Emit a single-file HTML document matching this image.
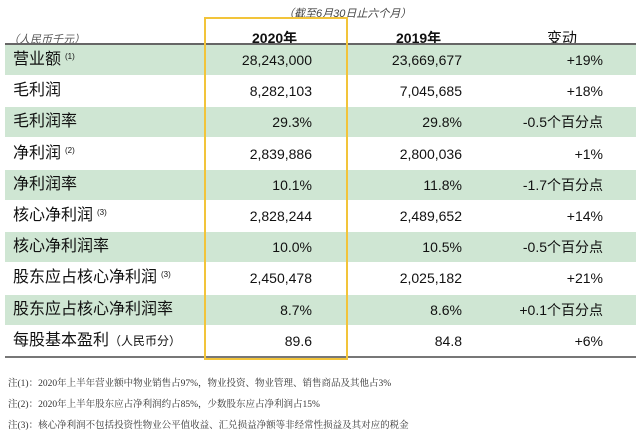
<!DOCTYPE html>
<html><head><meta charset="utf-8"><style>
body{margin:0;width:641px;height:433px;background:#fff;overflow:hidden;position:relative;font-family:"Liberation Sans","Noto Sans CJK SC",sans-serif;color:#111}
.a{position:absolute;white-space:nowrap}
.row{position:absolute;left:5px;width:631px;height:30px}
.g{background:#cfe6d3}
.lab{position:absolute;left:8px;top:0;height:30px;font-size:16px;line-height:30px;white-space:nowrap}
.lab .s{font-size:8px;position:relative;top:-5px;margin-left:4px;line-height:0}
.v{position:absolute;top:0;font-size:14px;line-height:30px;text-align:right;white-space:nowrap}
.c1{right:324px}.c2{right:174px}.c3{right:33px}
.note{position:absolute;left:8px;font-size:9.5px;color:#333;font-family:"Liberation Serif","Noto Serif CJK SC",serif}
</style></head><body>
<div class="a" style="left:283px;top:5px;font-size:11px;font-style:italic;color:#444">（截至6月30日止六个月）</div>
<div class="a" style="left:8px;top:31px;font-size:11px;font-style:italic;color:#555">（人民币千元）</div>
<div class="a" style="left:252px;top:28px;font-size:14px;font-weight:bold">2020年</div>
<div class="a" style="left:396px;top:28px;font-size:14px;font-weight:bold">2019年</div>
<div class="a" style="left:547px;top:27px;font-size:15px">变动</div>
<div class="a" style="left:5px;top:43px;width:631px;height:2px;background:#666"></div>
<div id="rows"></div>
<div class="a" style="left:5px;top:356px;width:631px;height:2px;background:#777"></div>
<div class="a" style="left:204px;top:17px;width:140px;height:339px;border:2px solid #f2c43a"></div>
<div class="note" style="top:375px">注(1)：2020年上半年营业额中物业销售占97%，物业投资、物业管理、销售商品及其他占3%</div>
<div class="note" style="top:396px">注(2)：2020年上半年股东应占净利润约占85%，少数股东应占净利润占15%</div>
<div class="note" style="top:417px">注(3)：核心净利润不包括投资性物业公平值收益、汇兑损益净额等非经常性损益及其对应的税金</div>
<script>
const labels=["营业额","毛利润","毛利润率","净利润","净利润率","核心净利润","核心净利润率","股东应占核心净利润","股东应占核心净利润率","每股基本盈利"];
const notes=["(1)","","","(2)","","(3)","","(3)","",""];
const v2020=["28,243,000","8,282,103","29.3%","2,839,886","10.1%","2,828,244","10.0%","2,450,478","8.7%","89.6"];
const v2019=["23,669,677","7,045,685","29.8%","2,800,036","11.8%","2,489,652","10.5%","2,025,182","8.6%","84.8"];
const changes=["+19%","+18%","-0.5个百分点","+1%","-1.7个百分点","+14%","-0.5个百分点","+21%","+0.1个百分点","+6%"];
const host=document.getElementById('rows');
labels.forEach((l,i)=>{
 const r=document.createElement('div');
 r.className='row'+(i%2===0?' g':'');
 r.style.top=(45+i*31.2)+'px';
 
 
 let lab=l+(notes[i]?'<span class="s">'+notes[i]+'</span>':'');
 if(i===9) lab+='<span style="font-size:12px">（人民币分）</span>';
 r.innerHTML='<div class="lab">'+lab+'</div>'+
 '<div class="v c1">'+v2020[i]+'</div>'+
 '<div class="v c2">'+v2019[i]+'</div>'+
 '<div class="v c3">'+changes[i]+'</div>';
 host.appendChild(r);
});
</script>
</body></html>
